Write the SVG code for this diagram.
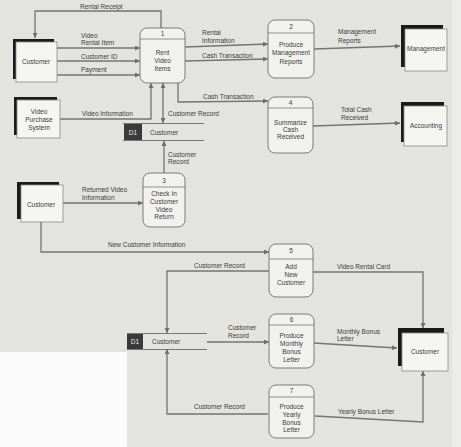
<svg xmlns="http://www.w3.org/2000/svg" width="461" height="447" viewBox="0 0 461 447">
<defs>
<marker id="ah" viewBox="0 0 10 10" refX="10" refY="5" markerUnits="userSpaceOnUse" markerWidth="7" markerHeight="5" orient="auto-start-reverse">
<path d="M0,0 L10,5 L0,10 z" fill="#6e6e6e"/>
</marker>
</defs>
<style>
text{font-family:"Liberation Sans",Arial,sans-serif;font-size:6.5px;fill:#3c3c3c}
.c{text-anchor:middle}
.proc rect{fill:#f1f1ee;stroke:#7a7a7a;stroke-width:1}
.proc line{stroke:#7a7a7a;stroke-width:0.8}
.ent .sh{fill:#1a1a1a}
.ent .bx{fill:#f5f5f2;stroke:#8a8a8a;stroke-width:0.8}
.store line{stroke:#777;stroke-width:1.1}
.store .id{fill:#3a3a3a}
.store .idt{fill:#e8e8e8}
#connectors path{fill:none;stroke:#747474;stroke-width:1.3}
</style>
<rect x="0" y="0" width="461" height="447" fill="#e3e3df"/>
<rect x="452" y="0" width="9" height="447" fill="#ececea"/>
<rect x="0" y="352" width="127" height="95" fill="#fbfbfb"/>

<g id="connectors">
<path d="M161,28 V11 H35 V38" marker-end="url(#ah)"/>
<path d="M57,48 H140" marker-end="url(#ah)"/>
<path d="M57,61 H140" marker-end="url(#ah)"/>
<path d="M57,75 H140" marker-end="url(#ah)"/>
<path d="M60,119 H151 V83" marker-end="url(#ah)"/>
<path d="M163,123 V83" marker-start="url(#ah)" marker-end="url(#ah)"/>
<path d="M185,47 L268,44" marker-end="url(#ah)"/>
<path d="M185,61 L268,59" marker-end="url(#ah)"/>
<path d="M178,83 V102 L268,101" marker-end="url(#ah)"/>
<path d="M314,49 L400,46" marker-end="url(#ah)"/>
<path d="M313,126 L400,123" marker-end="url(#ah)"/>
<path d="M164,173 V141" marker-end="url(#ah)"/>
<path d="M63,203 H143" marker-end="url(#ah)"/>
<path d="M41,222 V252 H269" marker-end="url(#ah)"/>
<path d="M269,271 H167 V333" marker-end="url(#ah)"/>
<path d="M313,272 H423 V328" marker-end="url(#ah)"/>
<path d="M207,342 H269" marker-end="url(#ah)"/>
<path d="M313,343 L397,348" marker-end="url(#ah)"/>
<path d="M268,414 H167 V349" marker-end="url(#ah)"/>
<path d="M315,416 L423,422 V371" marker-end="url(#ah)"/>
</g>

<g id="labels">
<text x="80" y="9">Rental Receipt</text>
<text x="81" y="38">Video</text>
<text x="81" y="45">Rental Item</text>
<text x="81" y="59">Customer ID</text>
<text x="81" y="72">Payment</text>
<text x="82" y="116">Video Information</text>
<text x="168" y="116">Customer Record</text>
<text x="202" y="35">Rental</text>
<text x="202" y="43">Information</text>
<text x="202" y="58">Cash Transaction</text>
<text x="203" y="99">Cash Transaction</text>
<text x="338" y="34">Management</text>
<text x="338" y="43">Reports</text>
<text x="341" y="112">Total Cash</text>
<text x="341" y="120">Received</text>
<text x="168" y="157">Customer</text>
<text x="168" y="164">Record</text>
<text x="82" y="192">Returned Video</text>
<text x="82" y="200">Information</text>
<text x="108" y="247">New Customer Information</text>
<text x="194" y="268">Customer Record</text>
<text x="337" y="269">Video Rental Card</text>
<text x="228" y="330">Customer</text>
<text x="228" y="338">Record</text>
<text x="337" y="334">Monthly Bonus</text>
<text x="337" y="341">Letter</text>
<text x="194" y="409">Customer Record</text>
<text x="338" y="414">Yearly Bonus Letter</text>
</g>

<g id="ext-customer-1" class="ent">
<rect class="sh" x="13" y="39" width="41" height="40"/>
<rect class="bx" x="16" y="42" width="41" height="40"/>
<text class="c" x="36" y="64">Customer</text>
</g>
<g id="ext-video-purchase" class="ent">
<rect class="sh" x="14" y="97" width="43" height="38"/>
<rect class="bx" x="17" y="100" width="43" height="38"/>
<text class="c" x="39" y="114">Video</text>
<text class="c" x="39" y="122">Purchase</text>
<text class="c" x="39" y="130">System</text>
</g>
<g id="ext-customer-2" class="ent">
<rect class="sh" x="17" y="182" width="42" height="37"/>
<rect class="bx" x="21" y="185" width="42" height="37"/>
<text class="c" x="41" y="207">Customer</text>
</g>
<g id="ext-management" class="ent">
<rect class="sh" x="401" y="25" width="42" height="42"/>
<rect class="bx" x="405" y="29" width="42" height="42"/>
<text class="c" x="426" y="51">Management</text>
</g>
<g id="ext-accounting" class="ent">
<rect class="sh" x="401" y="102" width="43" height="40"/>
<rect class="bx" x="404" y="106" width="43" height="40"/>
<text class="c" x="426" y="128">Accounting</text>
</g>
<g id="ext-customer-3" class="ent">
<rect class="sh" x="398" y="328" width="46" height="38"/>
<rect class="bx" x="402" y="333" width="46" height="38"/>
<text class="c" x="425" y="354">Customer</text>
</g>

<g id="p1" class="proc">
<rect x="140" y="28" width="45" height="55" rx="7"/>
<line x1="140" y1="39" x2="185" y2="39"/>
<text class="c" x="162.5" y="36">1</text>
<text class="c" x="162.5" y="55">Rent</text>
<text class="c" x="162.5" y="63">Video</text>
<text class="c" x="162.5" y="71">Items</text>
</g>
<g id="p2" class="proc">
<rect x="268" y="20" width="46" height="58" rx="7"/>
<line x1="268" y1="33" x2="314" y2="33"/>
<text class="c" x="291" y="29">2</text>
<text class="c" x="291" y="47">Produce</text>
<text class="c" x="291" y="55">Management</text>
<text class="c" x="291" y="64">Reports</text>
</g>
<g id="p4" class="proc">
<rect x="268" y="97" width="45" height="56" rx="7"/>
<line x1="268" y1="108" x2="313" y2="108"/>
<text class="c" x="290.5" y="105">4</text>
<text class="c" x="290.5" y="125">Summarize</text>
<text class="c" x="290.5" y="132">Cash</text>
<text class="c" x="290.5" y="139">Received</text>
</g>
<g id="p3" class="proc">
<rect x="143" y="173" width="42" height="54" rx="7"/>
<line x1="143" y1="187" x2="185" y2="187"/>
<text class="c" x="164" y="183">3</text>
<text class="c" x="164" y="196">Check In</text>
<text class="c" x="164" y="204">Customer</text>
<text class="c" x="164" y="212">Video</text>
<text class="c" x="164" y="219">Return</text>
</g>
<g id="p5" class="proc">
<rect x="269" y="244" width="44" height="53" rx="7"/>
<line x1="269" y1="259" x2="313" y2="259"/>
<text class="c" x="291" y="253">5</text>
<text class="c" x="291" y="269">Add</text>
<text class="c" x="291" y="277">New</text>
<text class="c" x="291" y="285">Customer</text>
</g>
<g id="p6" class="proc">
<rect x="269" y="314" width="45" height="54" rx="7"/>
<line x1="269" y1="325" x2="314" y2="325"/>
<text class="c" x="291.5" y="322">6</text>
<text class="c" x="291.5" y="338">Produce</text>
<text class="c" x="291.5" y="346">Monthly</text>
<text class="c" x="291.5" y="354">Bonus</text>
<text class="c" x="291.5" y="362">Letter</text>
</g>
<g id="p7" class="proc">
<rect x="269" y="385" width="45" height="53" rx="7"/>
<line x1="269" y1="397" x2="314" y2="397"/>
<text class="c" x="291.5" y="393">7</text>
<text class="c" x="291.5" y="409">Produce</text>
<text class="c" x="291.5" y="417">Yearly</text>
<text class="c" x="291.5" y="425">Bonus</text>
<text class="c" x="291.5" y="432">Letter</text>
</g>

<g id="d1-top" class="store">
<line x1="123" y1="123.5" x2="204" y2="123.5"/>
<line x1="123" y1="140.5" x2="204" y2="140.5"/>
<rect class="id" x="124" y="124" width="18" height="16"/>
<text class="c idt" x="133" y="134.5">D1</text>
<text x="150" y="134.5">Customer</text>
</g>
<g id="d1-bottom" class="store">
<line x1="127" y1="333.5" x2="207" y2="333.5"/>
<line x1="127" y1="349.5" x2="207" y2="349.5"/>
<rect class="id" x="127" y="334" width="16" height="15"/>
<text class="c idt" x="135" y="344">D1</text>
<text x="152" y="344">Customer</text>
</g>
</svg>
